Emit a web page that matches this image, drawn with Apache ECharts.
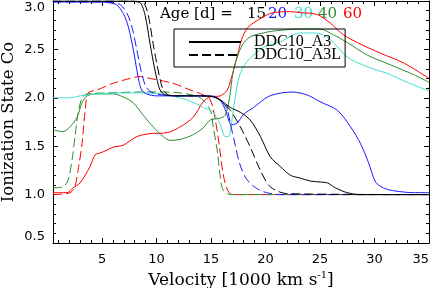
<!DOCTYPE html>
<html><head><meta charset="utf-8">
<script src="https://cdn.jsdelivr.net/npm/echarts@6/dist/echarts.min.js"></script>
<style>html,body{margin:0;padding:0;background:#fff}#c{width:437px;height:288px}</style>
</head><body><div id="c"></div>
<script>
// ---- tick labels ----
const xMajorTicks = [5, 10, 15, 20, 25, 30, 35];
const xMinorTicks = [1, 2, 3, 4, 6, 7, 8, 9, 11, 12, 13, 14, 16, 17, 18, 19, 21, 22, 23, 24, 26, 27, 28, 29, 31, 32, 33, 34];
const ages = ['15', '20', '30', '40', '60'];

// ---- 15 d ----
const bkSolidX = [0.5, 7.5, 8.3, 8.6, 8.96, 9.42, 9.69, 10.06, 10.33, 10.8, 12, 14, 15.2, 15.85, 16.77, 17.69, 18.6, 19.53, 20.44, 21.36, 22.28, 23.2, 24.12, 25.04, 25.7, 26.4, 27.5, 28.7, 35];
const bkSolidY = [3.0, 3.0, 2.99, 2.97, 2.85, 2.55, 2.38, 2.18, 2.08, 2.03, 2.02, 2.02, 2.01, 1.98, 1.9, 1.85, 1.77, 1.6, 1.39, 1.29, 1.2, 1.17, 1.14, 1.13, 1.12, 1.07, 1.02, 1.0, 1.0];
const bkDashX = [0.5, 7.8, 8.6, 8.9, 9.25, 9.7, 9.98, 10.35, 10.62, 11.1, 12, 14, 15.2, 15.9, 16.77, 17.69, 18.6, 19.53, 20.44, 22.0, 35];
const bkDashY = [3.0, 3.0, 2.99, 2.97, 2.85, 2.55, 2.38, 2.18, 2.08, 2.03, 2.02, 2.02, 2.01, 1.97, 1.87, 1.7, 1.49, 1.25, 1.08, 1.01, 1.0];
// ---- 20 d ----
const blSolidX = [0.5, 5.0, 5.74, 6.35, 6.96, 7.42, 7.88, 8.19, 8.43, 8.65, 9.1, 10, 12, 14, 15.0, 15.8, 16.3, 16.9, 17.4, 18.0, 18.9, 20.4, 22.5, 23.8, 25.0, 26.6, 27.8, 28.7, 29.45, 30.1, 30.8, 31.75, 33.6, 35];
const blSolidY = [2.99, 2.99, 2.98, 2.96, 2.87, 2.73, 2.49, 2.29, 2.15, 2.08, 2.04, 2.02, 2.02, 2.02, 2.02, 1.98, 1.88, 1.72, 1.74, 1.83, 1.9, 2.02, 2.06, 2.03, 1.96, 1.87, 1.7, 1.53, 1.33, 1.13, 1.07, 1.04, 1.02, 1.02];
const blDashX = [0.5, 5.3, 6.1, 6.7, 7.3, 7.75, 8.2, 8.5, 8.77, 9.0, 9.5, 10.5, 12, 14, 15.5, 16.4, 16.8, 17.2, 17.6, 18.2, 19.1, 20.1, 21.5, 35];
const blDashY = [2.99, 2.99, 2.98, 2.96, 2.87, 2.73, 2.49, 2.32, 2.2, 2.12, 2.06, 2.03, 2.02, 2.02, 2.0, 1.9, 1.72, 1.52, 1.33, 1.17, 1.07, 1.02, 1.0, 1.0];
// ---- 30 d ----
const cySolidX = [0.5, 2, 3, 4.5, 7, 9, 11, 13, 14.3, 15.2, 15.85, 16.3, 16.6, 17.04, 17.5, 17.96, 18.6, 19.8, 21.36, 23.2, 24.4, 25.3, 26.24, 27.5, 29.36, 31.2, 33.0, 35];
const cySolidY = [2.0, 2.0, 2.02, 2.04, 2.05, 2.05, 2.03, 1.97, 1.9, 1.85, 1.72, 1.6, 1.6, 1.87, 2.18, 2.32, 2.41, 2.52, 2.58, 2.67, 2.67, 2.65, 2.57, 2.42, 2.32, 2.25, 2.16, 2.07];
// ---- 40 d ----
const grSolidX = [0.5, 1.42, 2.06, 2.71, 3.17, 3.63, 4.54, 6.01, 6.93, 7.85, 8.77, 9.69, 10.61, 11.25, 12.17, 13.37, 14.29, 14.93, 15.85, 16.3, 16.7, 17.0, 17.4, 17.9, 18.6, 20.2, 21.6, 23.2, 25.0, 26.24, 27.52, 29.36, 31.47, 33.59, 35];
const grSolidY = [1.67, 1.65, 1.7, 1.8, 1.95, 2.02, 2.04, 2.04, 2.01, 1.95, 1.82, 1.7, 1.6, 1.56, 1.57, 1.62, 1.69, 1.77, 1.79, 1.82, 2.0, 2.25, 2.42, 2.55, 2.63, 2.68, 2.7, 2.71, 2.71, 2.65, 2.57, 2.44, 2.34, 2.24, 2.16];
const grDashX = [0.5, 1.42, 1.88, 2.25, 2.52, 2.8, 3.17, 3.63, 5.46, 8.5, 10.06, 12.17, 14.0, 14.93, 15.2, 15.6, 15.85, 16.1, 16.8, 35];
const grDashY = [1.07, 1.08, 1.15, 1.36, 1.6, 1.84, 2.0, 2.04, 2.05, 2.06, 2.06, 2.05, 2.0, 1.87, 1.7, 1.43, 1.18, 1.05, 1.0, 1.0];
// ---- 60 d ----
const rdSolidX = [0.5, 1.79, 2.34, 2.98, 3.9, 4.36, 4.82, 5.46, 6.01, 6.93, 8.22, 9.42, 10.98, 12.17, 13.37, 14.29, 14.93, 15.85, 16.49, 16.8, 17.1, 17.45, 17.8, 18.33, 19.25, 20.72, 22.28, 23.2, 24.76, 25.96, 27.15, 28.44, 30.55, 32.67, 35];
const rdSolidY = [1.02, 1.02, 1.07, 1.12, 1.29, 1.41, 1.43, 1.46, 1.49, 1.51, 1.6, 1.63, 1.64, 1.7, 1.8, 1.96, 2.01, 2.02, 2.08, 2.18, 2.3, 2.45, 2.6, 2.72, 2.8, 2.88, 2.89, 2.88, 2.86, 2.77, 2.65, 2.57, 2.46, 2.36, 2.2];
const rdDashX = [0.5, 2.06, 2.5, 2.8, 3.17, 3.45, 3.72, 4.54, 6.01, 7.58, 8.5, 9.42, 11.5, 13.1, 14.29, 14.93, 15.4, 15.85, 16.1, 16.5, 17.0, 35];
const rdDashY = [1.0, 1.02, 1.08, 1.25, 1.53, 1.87, 2.05, 2.08, 2.15, 2.2, 2.22, 2.2, 2.15, 2.08, 2.03, 1.98, 1.77, 1.43, 1.22, 1.05, 1.0, 1.0];

const C = {k: '#000000', b: '#1a1aff', c: '#40e0d0', g: '#2e8b2e', r: '#ff0000'};
const zip = (xs, ys) => xs.map((x, i) => [x, ys[i]]);
const DASH = [9, 4];
function line(name, xs, ys, color, dashed) {
  return {
    type: 'line', name: name, data: zip(xs, ys), xAxisIndex: 0, yAxisIndex: 0,
    showSymbol: false, symbol: 'none', smooth: 0.3, animation: false,
    lineStyle: {color: color, width: 1, type: dashed ? DASH : 'solid'},
    itemStyle: {color: color}
  };
}

const numFont = 'DejaVu Sans';
const txtFont = 'DejaVu Serif';
function xAx(pos, ticks, len, labels, extra) {
  return Object.assign({
    type: 'value', position: pos, min: 0.5, max: 35, gridIndex: 0,
    axisLine: {show: true, onZero: false, lineStyle: {color: '#000', width: 1}},
    axisTick: {show: true, inside: true, length: len, customValues: ticks, lineStyle: {color: '#000', width: 1}},
    axisLabel: labels ? {show: true, customValues: ticks, color: '#000', fontFamily: numFont, fontSize: 13, margin: 10, alignMaxLabel: 'right'} : {show: false},
    splitLine: {show: false}
  }, extra || {});
}
function yAx(pos, labels, extra) {
  return Object.assign({
    type: 'value', position: pos, min: 0.5, max: 3.0, interval: 0.5, gridIndex: 0,
    axisLine: {show: true, onZero: false, lineStyle: {color: '#000', width: 1}},
    axisTick: {show: true, inside: true, length: 5, lineStyle: {color: '#000', width: 1}},
    minorTick: {show: true, splitNumber: 5, length: 3, lineStyle: {color: '#000', width: 1}},
    axisLabel: labels ? {show: true, color: '#000', fontFamily: numFont, fontSize: 13, margin: 8,
      verticalAlignMaxLabel: 'top', verticalAlignMinLabel: 'bottom', formatter: v => v.toFixed(1)} : {show: false},
    splitLine: {show: false}, minorSplitLine: {show: false}
  }, extra || {});
}

const chart = echarts.init(document.getElementById('c'), null, {renderer: 'canvas'});
const option = {
  backgroundColor: '#fff',
  animation: false,
  grid: {left: 53, right: 8, top: 1, bottom: 45, containLabel: false, outerBoundsMode: 'none'},
  xAxis: [
    xAx('bottom', xMajorTicks, 5, true, {
      name: 'Velocity [1000 km s{sup|-1}]', nameLocation: 'middle', nameGap: 25,
      nameTextStyle: {color: '#000', fontFamily: txtFont, fontSize: 17,
        rich: {sup: {fontFamily: txtFont, fontSize: 10, padding: [0, 0, 9, 0], color: '#000'}}}
    }),
    xAx('bottom', xMinorTicks, 3, false, {axisLine: {show: false}}),
    xAx('top', xMajorTicks, 5, false),
    xAx('top', xMinorTicks, 3, false, {axisLine: {show: false}})
  ],
  yAxis: [
    yAx('left', true, {
      name: 'Ionization State Co', nameLocation: 'middle', nameGap: 36, nameMoveOverlap: false,
      nameTextStyle: {color: '#000', fontFamily: txtFont, fontSize: 16.5}
    }),
    yAx('right', false)
  ],
  legend: {
    data: ['DDC10_A3', 'DDC10_A3L'],
    orient: 'vertical', left: 174, top: 29,
    padding: [5, 4, 4, 14], itemWidth: 52, itemHeight: 12, itemGap: -3,
    borderColor: '#000', borderWidth: 1, backgroundColor: 'transparent',
    itemStyle: {opacity: 0},
    textStyle: {color: '#000', fontFamily: 'Liberation Serif', fontSize: 16, lineHeight: 12, padding: [0, 0, 0, 8]},
    selectedMode: false
  },
  graphic: [
    {type: 'text', left: 160, top: 7, style: {text: 'Age [d] =', fill: C.k, font: '15px "DejaVu Serif"'}},
    {type: 'text', left: 247, top: 7, style: {text: ages[0], fill: C.k, font: '15px "DejaVu Serif"'}},
    {type: 'text', left: 268, top: 7, style: {text: ages[1], fill: C.b, font: '15px "DejaVu Serif"'}},
    {type: 'text', left: 294, top: 7, style: {text: ages[2], fill: C.c, font: '15px "DejaVu Serif"'}},
    {type: 'text', left: 318, top: 7, style: {text: ages[3], fill: C.g, font: '15px "DejaVu Serif"'}},
    {type: 'text', left: 343, top: 7, style: {text: ages[4], fill: C.r, font: '15px "DejaVu Serif"'}}
  ],
  series: [
    line('60 d A3', rdSolidX, rdSolidY, C.r, false),
    line('60 d A3L', rdDashX, rdDashY, C.r, true),
    line('40 d A3', grSolidX, grSolidY, C.g, false),
    line('40 d A3L', grDashX, grDashY, C.g, true),
    line('30 d A3', cySolidX, cySolidY, C.c, false),
    line('20 d A3', blSolidX, blSolidY, C.b, false),
    line('20 d A3L', blDashX, blDashY, C.b, true),
    line('DDC10_A3', bkSolidX, bkSolidY, C.k, false),
    line('DDC10_A3L', bkDashX, bkDashY, C.k, true)
  ]
};
chart.setOption(option);
</script></body></html>
